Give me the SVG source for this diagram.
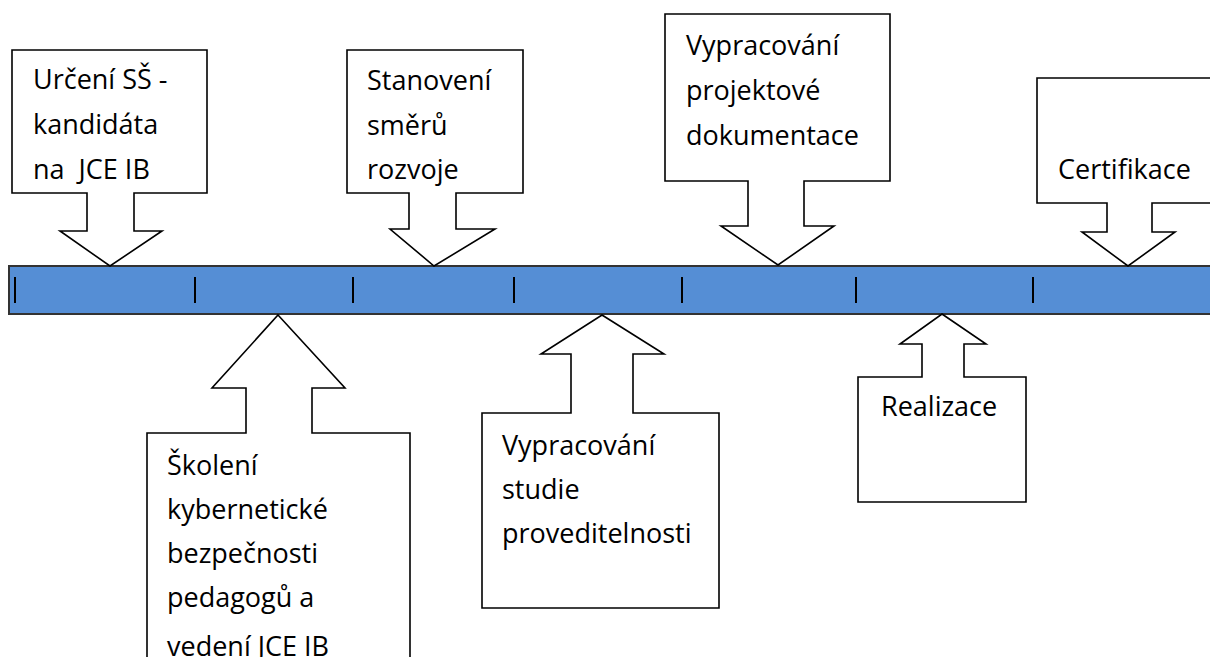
<svg xmlns="http://www.w3.org/2000/svg" width="1210" height="657" viewBox="0 0 1210 657">
<style>
.co{fill:#fff;stroke:#000;stroke-width:1.6;stroke-linejoin:miter}
.t{font-family:"Open Sans",Lato,"Liberation Sans",sans-serif;font-size:27px;fill:#000;white-space:pre}
.tick{stroke:#000;stroke-width:2}
</style>
<defs>
<clipPath id="c2"><rect x="347" y="50" width="176" height="143"/></clipPath>
</defs>
<rect width="1210" height="657" fill="#fff"/>
<g id="timeline">
<rect x="9" y="266" width="1205" height="48" fill="#558ED5" stroke="#333" stroke-width="2"/>
<g id="ticks">
<line class="tick" x1="15" y1="277" x2="15" y2="303"/>
<line class="tick" x1="195" y1="277" x2="195" y2="303"/>
<line class="tick" x1="353" y1="277" x2="353" y2="303"/>
<line class="tick" x1="514" y1="277" x2="514" y2="303"/>
<line class="tick" x1="682" y1="277" x2="682" y2="303"/>
<line class="tick" x1="856" y1="277" x2="856" y2="303"/>
<line class="tick" x1="1033" y1="277" x2="1033" y2="303"/>
</g>
</g>
<g id="connectors"></g>
<g id="n1">
<path class="co" d="M12,50 H207 V193 H134 V231 H162 L110,266 L60,231 H87 V193 H12 Z"/>
<text class="t" x="33" y="89">Určení SŠ -</text>
<text class="t" x="33" y="134">kandidáta</text>
<text class="t" x="33" y="179" xml:space="preserve">na  JCE IB</text>
</g>
<g id="n2">
<path class="co" d="M347,50 H523 V193 H456 V229 H495 L434,266 L390,229 H409 V193 H347 Z"/>
<g clip-path="url(#c2)">
<text class="t" x="367" y="90">Stanovení</text>
<text class="t" x="367" y="135">směrů</text>
<text class="t" x="367" y="179">rozvoje</text>
</g>
</g>
<g id="n3">
<path class="co" d="M665,14 H890 V181 H804 V226 H834 L778,265 L721,226 H748 V181 H665 Z"/>
<text class="t" x="686" y="55">Vypracování</text>
<text class="t" x="686" y="100">projektové</text>
<text class="t" x="686" y="145">dokumentace</text>
</g>
<g id="n4">
<path class="co" d="M1037,78 H1214 V203 H1152 V232 H1175 L1128,266 L1082,232 H1107 V203 H1037 Z"/>
<text class="t" x="1058" y="179">Certifikace</text>
</g>
<g id="n5">
<path class="co" d="M278,315 L345,388 H312 V433 H410 V662 H147 V433 H246 V388 H212 Z"/>
<text class="t" x="167" y="475">Školení</text>
<text class="t" x="167" y="519">kybernetické</text>
<text class="t" x="167" y="563">bezpečnosti</text>
<text class="t" x="167" y="607">pedagogů a</text>
<text class="t" x="167" y="656">vedení JCE IB</text>
</g>
<g id="n6">
<path class="co" d="M602,315 L664,354 H633 V413 H719 V608 H482 V413 H571 V354 H541 Z"/>
<text class="t" x="502" y="455">Vypracování</text>
<text class="t" x="502" y="499">studie</text>
<text class="t" x="502" y="543">proveditelnosti</text>
</g>
<g id="n7">
<path class="co" d="M942,314 L986,344 H964 V377 H1026 V502 H858 V377 H922 V344 H900 Z"/>
<text class="t" x="881" y="416">Realizace</text>
</g>
</svg>
